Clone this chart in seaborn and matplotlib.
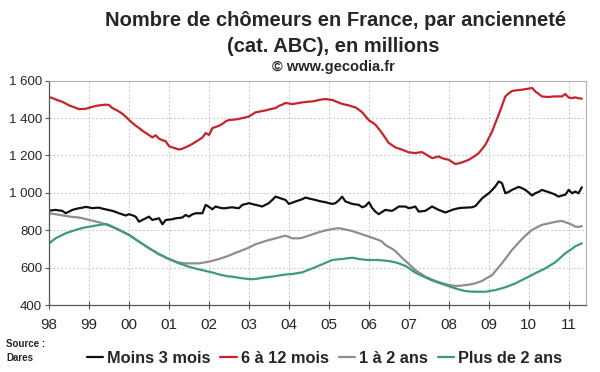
import pandas as pd
import numpy as np
import matplotlib
matplotlib.use("Agg")
import matplotlib.pyplot as plt
import matplotlib.dates as mdates
from matplotlib.ticker import FuncFormatter, MultipleLocator
import seaborn as sns

# monthly data, Jan 1998 -> May 2011 (thousands)
dates = pd.date_range("1998-01-01", "2011-05-01", freq="MS")

moins_3_mois = [
    905, 907, 909, 906, 904, 891, 900, 909, 914, 918, 921, 925,
    922, 918, 920, 921, 916, 912, 908, 904, 898, 891, 885, 879,
    886, 880, 873, 846, 855, 864, 873, 855, 860, 864, 832, 855,
    857, 859, 864, 866, 868, 882, 873, 885, 891, 891, 891, 936,
    925, 912, 927, 922, 918, 918, 921, 923, 920, 918, 936, 940,
    945, 940, 936, 932, 927, 936, 945, 962, 980, 974, 968, 962,
    941, 948, 954, 960, 966, 975, 970, 966, 962, 957, 953, 950,
    945, 941, 945, 960, 980, 954, 948, 941, 938, 936, 923, 930,
    950, 918, 900, 886, 898, 909, 906, 904, 915, 927, 927, 927,
    918, 922, 927, 900, 902, 904, 915, 927, 918, 909, 902, 895,
    902, 909, 914, 918, 920, 921, 922, 923, 930, 950, 971, 985,
    998, 1016, 1034, 1061, 1052, 998, 1005, 1016, 1024, 1032, 1025, 1016,
    1001, 986, 998, 1005, 1016, 1010, 1004, 998, 990, 980, 986, 990,
    1016, 998, 1007, 998, 1030,
]

six_12_mois = [
    1513, 1507, 1500, 1493, 1487, 1478, 1468, 1462, 1455, 1448, 1449, 1450,
    1455, 1460, 1465, 1468, 1470, 1472, 1470, 1454, 1445, 1435, 1423, 1408,
    1390, 1374, 1360, 1347, 1333, 1321, 1309, 1297, 1308, 1290, 1282, 1276,
    1249, 1243, 1237, 1232, 1236, 1244, 1252, 1262, 1273, 1284, 1296, 1320,
    1310, 1347, 1352, 1359, 1368, 1382, 1390, 1391, 1393, 1396, 1400, 1404,
    1409, 1420, 1431, 1434, 1438, 1441, 1446, 1450, 1454, 1465, 1472, 1481,
    1478, 1475, 1478, 1481, 1484, 1486, 1488, 1489, 1493, 1497, 1500, 1502,
    1499, 1497, 1490, 1483, 1476, 1472, 1468, 1462, 1457, 1445, 1431, 1410,
    1388, 1377, 1365, 1343, 1320, 1293, 1267, 1255, 1243, 1237, 1231, 1224,
    1217, 1215, 1213, 1216, 1218, 1208, 1197, 1186, 1190, 1195, 1186, 1181,
    1177, 1165, 1154, 1158, 1163, 1170, 1177, 1188, 1200, 1213, 1235, 1258,
    1293, 1329, 1373, 1418, 1467, 1516, 1532, 1545, 1548, 1550, 1552, 1555,
    1558, 1561, 1543, 1530, 1516, 1514, 1513, 1515, 1516, 1516, 1516, 1529,
    1510, 1507, 1511, 1506, 1504,
]

un_2_ans = [
    891, 888, 885, 882, 879, 876, 873, 871, 870, 868, 864, 860,
    855, 851, 847, 843, 837, 831, 825, 817, 810, 802, 793, 784,
    775, 763, 751, 739, 727, 716, 704, 694, 683, 673, 664, 655,
    646, 640, 633, 628, 625, 623, 623, 623, 623, 623, 626, 629,
    632, 637, 641, 646, 652, 658, 664, 672, 680, 686, 693, 700,
    708, 717, 725, 731, 737, 743, 748, 752, 757, 762, 767, 771,
    764, 757, 757, 757, 760, 766, 772, 778, 784, 790, 795, 799,
    803, 806, 809, 811, 808, 804, 800, 796, 790, 784, 778, 772,
    766, 760, 754, 748, 739, 721, 711, 701, 688, 670, 652, 636,
    620, 603, 587, 575, 563, 552, 544, 536, 529, 523, 517, 512,
    508, 505, 502, 503, 504, 507, 509, 512, 517, 523, 529, 540,
    550, 561, 581, 602, 623, 647, 671, 695, 715, 735, 754, 771,
    787, 802, 811, 820, 829, 833, 837, 841, 845, 848, 850, 843,
    837, 829, 820, 818, 822,
]

plus_2_ans = [
    730, 745, 757, 766, 775, 784, 790, 796, 802, 807, 812, 816,
    819, 822, 825, 828, 831, 834, 828, 820, 811, 802, 793, 784,
    775, 763, 751, 739, 727, 716, 704, 693, 682, 671, 663, 654,
    646, 638, 630, 623, 617, 611, 605, 600, 595, 591, 587, 583,
    579, 574, 569, 564, 560, 556, 553, 552, 549, 546, 543, 541,
    539, 538, 540, 542, 546, 548, 550, 552, 555, 558, 561, 563,
    565, 566, 569, 572, 575, 582, 589, 596, 603, 611, 618, 626,
    634, 641, 643, 645, 646, 649, 651, 653, 650, 646, 644, 642,
    641, 641, 641, 641, 639, 637, 636, 632, 628, 623, 616, 609,
    598, 585, 573, 565, 556, 548, 540, 532, 525, 519, 513, 507,
    501, 495, 489, 484, 479, 475, 473, 472, 471, 471, 471, 471,
    474, 477, 480, 485, 490, 495, 502, 509, 516, 525, 534, 543,
    552, 561, 570, 579, 587, 596, 607, 618, 629, 645, 661, 677,
    689, 701, 714, 722, 730,
]

series_names = ["Moins 3 mois", "6 à 12 mois", "1 à 2 ans", "Plus de 2 ans"]
series_colors = ["#111111", "#c8232c", "#8e8e8e", "#3d9b7a"]

df = pd.DataFrame({
    "date": list(dates) * 4,
    "valeur": moins_3_mois + six_12_mois + un_2_ans + plus_2_ans,
    "serie": sum([[n] * len(dates) for n in series_names], []),
})

sns.set_style("white")
plt.rcParams['font.family'] = ['Liberation Sans', 'DejaVu Sans']

fig = plt.figure(figsize=(6, 3.72), dpi=100)
ax = fig.add_axes([0.082, 0.180, 0.895, 0.603])

sns.lineplot(data=df, x="date", y="valeur", hue="serie", hue_order=series_names,
             palette=series_colors, linewidth=1.6, ax=ax)

ax.set_xlim(pd.Timestamp("1998-01-01"), pd.Timestamp("2011-06-10"))
ax.set_ylim(400, 1600)
ax.yaxis.set_major_locator(MultipleLocator(200))
ax.yaxis.set_major_formatter(FuncFormatter(lambda v, p: f"{int(v):,}".replace(",", " ")))
ax.xaxis.set_major_locator(mdates.YearLocator())
ax.xaxis.set_minor_locator(mdates.MonthLocator(bymonth=[3, 5, 7, 9, 11]))
ax.xaxis.set_major_formatter(mdates.DateFormatter("%y"))
ax.set_xlabel("")
ax.set_ylabel("")

ax.grid(True, which="major", color="#c8c8c8", linestyle=(0, (2, 2)), linewidth=0.7)
for side in ["top", "right"]:
    ax.spines[side].set_color("#b0b0b0")
    ax.spines[side].set_linewidth(0.8)
for side in ["left", "bottom"]:
    ax.spines[side].set_color("#555555")
    ax.spines[side].set_linewidth(0.9)

ax.tick_params(axis="x", which="major", direction="inout", length=6, width=0.8,
               color="#555555", labelsize=11, pad=6)
ax.tick_params(axis="x", which="minor", direction="in", length=3, width=0.7, color="#555555")
ax.tick_params(axis="y", which="major", direction="out", length=3, width=0.8,
               color="#555555", labelsize=9.5, pad=2)
ax.tick_params(left=True, bottom=True)

handles, labels = ax.get_legend_handles_labels()
ax.get_legend().remove()
fig.legend(handles, labels, loc="center", bbox_to_anchor=(0.541, 0.036), ncol=4,
           frameon=False, handlelength=1.0, handletextpad=0.25, columnspacing=0.6,
           prop={"weight": "bold", "size": 11.8})

fig.text(0.560, 0.945, "Nombre de chômeurs en France, par ancienneté",
         ha="center", va="center", fontsize=14.5, fontweight="bold")
fig.text(0.555, 0.876, "(cat. ABC), en millions",
         ha="center", va="center", fontsize=14.5, fontweight="bold")
fig.text(0.555, 0.820, "© www.gecodia.fr",
         ha="center", va="center", fontsize=10.5, fontweight="bold")
fig.text(0.010, 0.075, "Source :", ha="left", va="center", fontsize=7, fontweight="bold")
fig.text(0.010, 0.038, "Dares", ha="left", va="center", fontsize=7, fontweight="bold")

fig.savefig("out.png", dpi=100)
